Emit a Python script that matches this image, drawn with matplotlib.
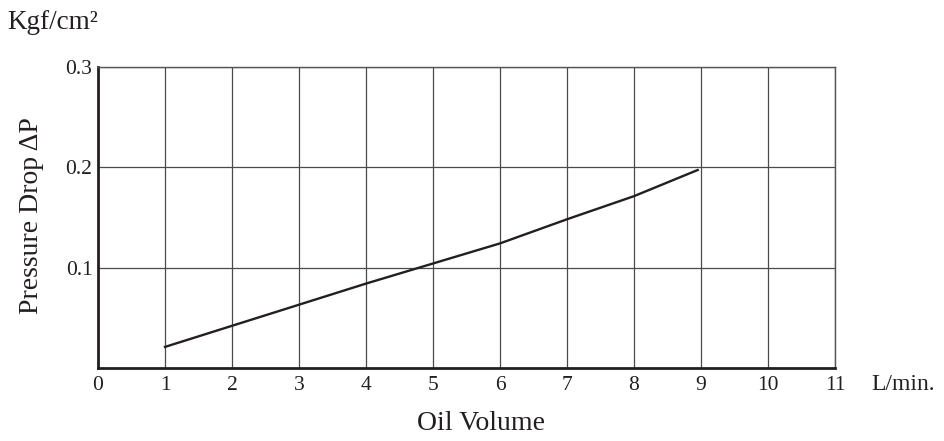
import matplotlib
matplotlib.use("Agg")
import matplotlib.pyplot as plt

# Oil volume (L/min) vs pressure drop (Kgf/cm2)
oil_volume = [1, 2, 3, 4, 5, 6, 7, 8, 8.95]
pressure_drop = [0.021, 0.042, 0.063, 0.084, 0.104, 0.124, 0.148, 0.171, 0.197]

x_ticks = list(range(0, 12))
y_ticks = [0.1, 0.2, 0.3]
y_tick_labels = ["0.1", "0.2", "0.3"]

plt.rcParams["font.family"] = ["Liberation Serif", "DejaVu Serif"]
text_color = "#231f20"

fig = plt.figure(figsize=(9.45, 4.41), dpi=100)
ax = fig.add_axes([0.1037, 0.1655, 0.7799, 0.6837])

ax.plot(oil_volume, pressure_drop, color=text_color, linewidth=1.7, zorder=3)

ax.set_xlim(0, 11)
ax.set_ylim(0, 0.3)
ax.set_xticks(x_ticks)
ax.set_xticklabels([str(t) for t in x_ticks])
ax.set_yticks(y_ticks)
ax.set_yticklabels(y_tick_labels)
ax.tick_params(length=0, labelsize=15.5, colors=text_color)
ax.tick_params(axis="x", pad=6)
ax.tick_params(axis="y", pad=4)

ax.grid(True, color="#4a4a4a", linewidth=0.9)
ax.set_axisbelow(True)

for side in ["left", "bottom"]:
    ax.spines[side].set_linewidth(2.0)
    ax.spines[side].set_color(text_color)
for side in ["top", "right"]:
    ax.spines[side].set_linewidth(1.0)
    ax.spines[side].set_color("#555555")

# axis titles placed in figure coords
fig.text(32 / 945, 1 - 216 / 441, "Pressure Drop ΔP", fontsize=20, color=text_color,
         rotation=90, ha="center", va="center")
fig.text(481 / 945, 1 - 423 / 441, "Oil Volume", fontsize=20, color=text_color,
         ha="center", va="center")
fig.text(0.008, 0.95, "Kgf/cm²", fontsize=19.5, color=text_color, va="center", ha="left")
fig.text(0.922, 0.127, "L/min.", fontsize=17, color=text_color, va="center", ha="left")

fig.savefig("out.png", dpi=100, facecolor="white")
